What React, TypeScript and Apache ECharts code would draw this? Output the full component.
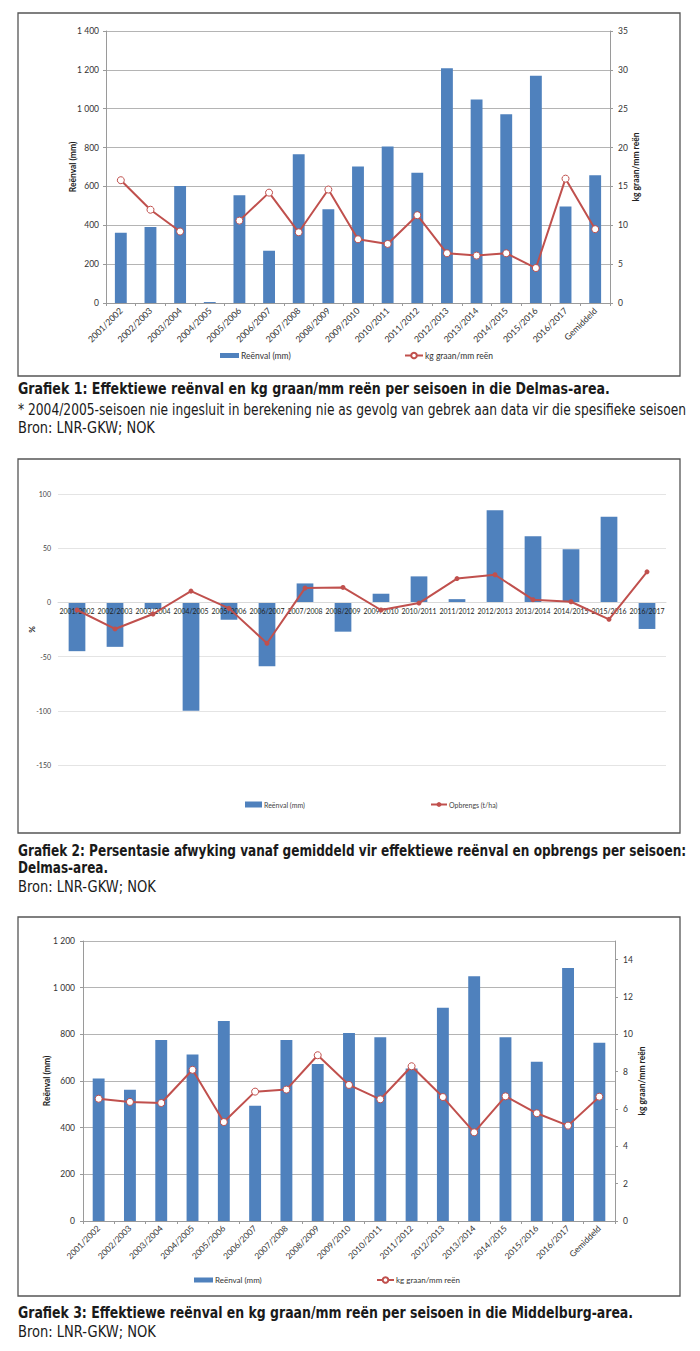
import React, { useEffect, useRef } from "react";
import * as echarts from "echarts";

const seasons1 = [
  "2001/2002", "2002/2003", "2003/2004", "2004/2005", "2005/2006", "2006/2007",
  "2007/2008", "2008/2009", "2009/2010", "2010/2011", "2011/2012", "2012/2013",
  "2013/2014", "2014/2015", "2015/2016", "2016/2017", "Gemiddeld",
];
const rain1 = [362, 391, 602, 5, 554, 269, 765, 482, 702, 806, 671, 1208, 1047, 971, 1170, 497, 657];
const kg1 = [15.8, 12.0, 9.2, null, 10.6, 14.2, 9.1, 14.6, 8.2, 7.6, 11.3, 6.4, 6.1, 6.4, 4.5, 16.0, 9.5];

const seasons2 = seasons1.slice(0, 16);
const rainDev2 = [-45, -41, -6, -100, -16, -59, 17.5, -27, 8, 24, 3, 85, 61, 49, 79, -24.5];
const yieldDev2 = [-7, -24.5, -10.7, 10.4, -5.5, -37.7, 13.2, 13.8, -7, -0.6, 22, 25.5, 2.5, 0.6, -15.6, 28.2];

const seasons3 = seasons1;
const rain3 = [611, 563, 776, 714, 857, 494, 776, 673, 806, 787, 654, 914, 1049, 787, 683, 1084, 764];
const kg3 = [6.55, 6.38, 6.32, 8.1, 5.3, 6.93, 7.04, 8.88, 7.29, 6.52, 8.29, 6.64, 4.75, 6.68, 5.77, 5.11, 6.66];

const captionTexts = [
  "Grafiek 1: Effektiewe reënval en kg graan/mm reën per seisoen in die Delmas-area.",
  "* 2004/2005-seisoen nie ingesluit in berekening nie as gevolg van gebrek aan data vir die spesifieke seisoen",
  "Bron: LNR-GKW; NOK",
  "Grafiek 2: Persentasie afwyking vanaf gemiddeld vir effektiewe reënval en opbrengs per seisoen:",
  "Delmas-area.",
  "Bron: LNR-GKW; NOK",
  "Grafiek 3: Effektiewe reënval en kg graan/mm reën per seisoen in die Middelburg-area.",
  "Bron: LNR-GKW; NOK",
];
const captionBold = [true, false, false, true, true, false, true, false];
// layout: middle y and right edge of each caption line
const captionY = [389, 410, 427, 851, 868, 886, 1313, 1331];
const captionRight = [610, 686, 155, 686, 108, 156, 634, 156];

const BLUE = "#4F81BD";
const RED = "#C0504D";
const CHART_FONT = "Lato, 'Open Sans', sans-serif";
const CAP_FAMILY = "'Liberation Sans Narrow', 'DejaVu Sans Condensed', 'Liberation Sans', sans-serif";

const thousand = (v: number) =>
  v >= 1000 ? `${Math.floor(v / 1000)} ${String(v % 1000).padStart(3, "0")}` : String(v);

function measure(text: string, font: string) {
  const ctx = document.createElement("canvas").getContext("2d");
  if (!ctx) return text.length * 7;
  ctx.font = font;
  return ctx.measureText(text).width;
}

export default function App() {
  const ref = useRef<HTMLDivElement>(null);
  useEffect(() => {
    if (!ref.current) return;
    const chart = echarts.init(ref.current, undefined, { renderer: "svg" });
    const gridLine = { show: true, lineStyle: { color: "#b4b4b4", width: 1 } };
    const axisGrey = { show: true, lineStyle: { color: "#9a9a9a", width: 1 } };
    const tick = { show: true, length: 3, lineStyle: { color: "#9a9a9a" } };
    const lbl = (size: number) => ({ fontSize: size, color: "#333", fontFamily: CHART_FONT });
    const nameStyle = { fontSize: 8.5, fontWeight: "bold", color: "#222", fontFamily: CHART_FONT };

    const captions = captionTexts.map((text, i) => {
      const weight = captionBold[i] ? "bold" : "normal";
      const w = measure(text, `${weight} 15px ${CAP_FAMILY}`);
      const target = captionRight[i] - 18;
      return {
        type: "text", x: 18, y: captionY[i], silent: true,
        scaleX: Math.min(1.2, target / w),
        style: {
          text, fill: "#1a1a1a", fontFamily: CAP_FAMILY,
          fontSize: 15, fontWeight: weight,
          align: "left", verticalAlign: "middle",
        },
      };
    });

    const legendText = (size: number) => ({
      fontSize: size, color: "#333", fontFamily: CHART_FONT, padding: [0, 0, 0, -3],
    });

    const option: any = {
      animation: false,
      backgroundColor: "#fff",
      textStyle: { fontFamily: CHART_FONT },
      grid: [
        { left: 106, right: 90, top: 31, bottom: 1351 - 303 },
        { left: 58, right: 34, top: 494, bottom: 1351 - 765 },
        { left: 83, right: 85, top: 941, bottom: 1351 - 1221 },
      ],
      xAxis: [
        {
          type: "category", gridIndex: 0, data: seasons1,
          axisLine: axisGrey, axisTick: tick,
          axisLabel: { ...lbl(8.8), rotate: 45, margin: 6, interval: 0 },
        },
        {
          type: "category", gridIndex: 1, data: seasons2, z: 3,
          position: "bottom", offset: -162.6,
          axisLine: { show: true, onZero: false, lineStyle: { color: "#d9d9d9" } },
          axisTick: { show: false },
          axisLabel: { ...lbl(6.9), margin: 5, interval: 0, color: "#222" },
        },
        {
          type: "category", gridIndex: 2, data: seasons3,
          axisLine: axisGrey, axisTick: tick,
          axisLabel: { ...lbl(8.5), rotate: 45, margin: 6, interval: 0 },
        },
      ],
      yAxis: [
        {
          type: "value", gridIndex: 0, min: 0, max: 1400, interval: 200, position: "left",
          name: "Reënval (mm)", nameLocation: "middle", nameGap: 29, nameMoveOverlap: false,
          nameTextStyle: nameStyle,
          axisLine: axisGrey, axisTick: tick,
          axisLabel: { ...lbl(8.5), margin: 7, formatter: thousand },
          splitLine: gridLine,
        },
        {
          type: "value", gridIndex: 0, min: 0, max: 35, interval: 5, position: "right",
          name: "kg graan/mm reën", nameLocation: "middle", nameGap: 21, nameMoveOverlap: false,
          nameTextStyle: nameStyle,
          axisLine: axisGrey, axisTick: tick,
          axisLabel: { ...lbl(8.5), margin: 8 },
          splitLine: { show: false },
        },
        {
          type: "value", gridIndex: 1, min: -150, max: 100, interval: 50,
          name: "%", nameLocation: "middle", nameGap: 22, nameMoveOverlap: false,
          nameTextStyle: { ...nameStyle, fontSize: 8 },
          axisLine: { show: false }, axisTick: { show: false },
          axisLabel: { ...lbl(7), margin: 7, color: "#444" },
          splitLine: { show: true, lineStyle: { color: "#e4e4e4", width: 1 } },
        },
        {
          type: "value", gridIndex: 2, min: 0, max: 1200, interval: 200, position: "left",
          name: "Reënval (mm)", nameLocation: "middle", nameGap: 32, nameMoveOverlap: false,
          nameTextStyle: nameStyle,
          axisLine: axisGrey, axisTick: tick,
          axisLabel: { ...lbl(8.5), margin: 8, formatter: thousand },
          splitLine: gridLine,
        },
        {
          type: "value", gridIndex: 2, min: 0, max: 15, interval: 2, position: "right",
          name: "kg graan/mm reën", nameLocation: "middle", nameGap: 22, nameMoveOverlap: false,
          nameTextStyle: nameStyle,
          axisLine: axisGrey, axisTick: tick,
          axisLabel: { ...lbl(8.5), margin: 8, showMaxLabel: false },
          splitLine: { show: false },
        },
      ],
      legend: [
        {
          left: 215, top: 346, itemWidth: 19, itemHeight: 5,
          data: [{ name: "Reënval (mm)", icon: "rect" }],
          textStyle: legendText(8.5), selectedMode: false,
        },
        {
          left: 399, top: 346, itemWidth: 18, itemHeight: 7,
          data: [{ name: "kg graan/mm reën" }],
          textStyle: legendText(8.5), selectedMode: false,
        },
        {
          left: 240, top: 796, itemWidth: 17, itemHeight: 6,
          data: [{ name: "Reënval (mm)", icon: "rect" }],
          textStyle: { ...legendText(7), color: "#444" }, selectedMode: false,
        },
        {
          left: 425, top: 796, itemWidth: 16, itemHeight: 6,
          data: [{ name: "Opbrengs (t/ha)" }],
          textStyle: { ...legendText(7), color: "#444" }, selectedMode: false,
        },
        {
          left: 189, top: 1271, itemWidth: 19, itemHeight: 5,
          data: [{ name: "Reënval (mm)", icon: "rect" }],
          textStyle: legendText(8), selectedMode: false,
        },
        {
          left: 371, top: 1271, itemWidth: 17, itemHeight: 7,
          data: [{ name: "kg graan/mm reën" }],
          textStyle: legendText(8), selectedMode: false,
        },
      ],
      series: [
        {
          name: "Reënval (mm)", type: "bar", xAxisIndex: 0, yAxisIndex: 0, data: rain1,
          barWidth: "40%", itemStyle: { color: BLUE },
        },
        {
          name: "kg graan/mm reën", type: "line", xAxisIndex: 0, yAxisIndex: 1, data: kg1,
          connectNulls: false, symbol: "circle", symbolSize: 7,
          lineStyle: { color: RED, width: 2 },
          itemStyle: { color: "#fff", borderColor: RED, borderWidth: 1 },
        },
        {
          name: "Reënval (mm)", type: "bar", xAxisIndex: 1, yAxisIndex: 2, data: rainDev2,
          barWidth: "44%", itemStyle: { color: BLUE },
        },
        {
          name: "Opbrengs (t/ha)", type: "line", xAxisIndex: 1, yAxisIndex: 2, data: yieldDev2, z: 4,
          symbol: "circle", symbolSize: 5,
          lineStyle: { color: RED, width: 2 },
          itemStyle: { color: RED },
        },
        {
          name: "Reënval (mm)", type: "bar", xAxisIndex: 2, yAxisIndex: 3, data: rain3,
          barWidth: "38%", itemStyle: { color: BLUE },
        },
        {
          name: "kg graan/mm reën", type: "line", xAxisIndex: 2, yAxisIndex: 4, data: kg3,
          symbol: "circle", symbolSize: 7,
          lineStyle: { color: RED, width: 2 },
          itemStyle: { color: "#fff", borderColor: RED, borderWidth: 1 },
        },
      ],
      graphic: [
        { type: "rect", shape: { x: 18, y: 13, width: 662, height: 363 }, style: { fill: "none", stroke: "#555", lineWidth: 1.3 }, silent: true },
        { type: "rect", shape: { x: 18, y: 459, width: 662, height: 374 }, style: { fill: "none", stroke: "#555", lineWidth: 1.3 }, silent: true },
        { type: "rect", shape: { x: 18, y: 917, width: 662, height: 379 }, style: { fill: "none", stroke: "#555", lineWidth: 1.3 }, silent: true },
        ...captions,
      ],
    };
    chart.setOption(option);
    return () => chart.dispose();
  }, []);
  return (
    <div
      ref={ref}
      style={{ position: "absolute", left: 0, top: 0, width: 700, height: 1351, background: "#fff" }}
    />
  );
}
